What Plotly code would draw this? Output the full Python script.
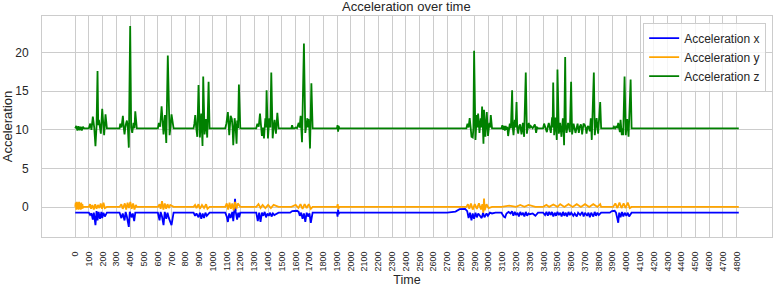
import plotly.graph_objects as go

# ---- data (time, value) ----
t_z = [0, 8, 16, 24, 32, 40, 48, 56, 64,
       99, 109, 118, 128, 138, 147, 155, 162, 167, 172, 180, 186, 196, 204, 210, 220, 230,
       322, 327, 336, 346, 352, 358, 366, 375, 382, 389, 399, 406, 414, 423, 430, 436, 447,
       600, 607, 617, 627, 634, 641, 651, 656, 661, 672, 679, 685, 692, 699, 714,
       859, 865, 871, 878, 886, 895, 900, 905, 915, 920, 924, 929, 934, 939, 949, 953, 958, 968, 975,
       1089, 1097, 1108, 1113, 1118, 1128, 1137, 1142, 1147, 1157, 1164, 1171, 1176, 1182, 1188, 1198,
       1314, 1322, 1332, 1341, 1348, 1355, 1362, 1370, 1380, 1385, 1389, 1394, 1399, 1409, 1416, 1423, 1428, 1433, 1440, 1447, 1452, 1457, 1467, 1476,
       1569, 1574, 1580, 1593, 1600, 1610, 1622, 1629, 1636, 1641, 1646, 1660, 1665, 1670, 1685, 1690, 1694, 1699, 1704, 1714, 1723,
       1900, 1904, 1908, 1912, 1916,
       2839, 2847, 2855, 2863, 2870, 2876, 2885, 2890, 2895, 2900, 2905, 2914, 2919, 2924, 2929, 2934, 2943, 2948, 2953, 2958, 2963, 2967, 2972, 2977, 2987, 2992, 2996, 3006, 3011, 3016, 3025,
       3094, 3100, 3106, 3112, 3118, 3124, 3130, 3136, 3142, 3148, 3154, 3162, 3171, 3176, 3181, 3190, 3196, 3203, 3208, 3215, 3222, 3229, 3234, 3239, 3249, 3254, 3258, 3270, 3275, 3278, 3285, 3292, 3298, 3306, 3320, 3336, 3345, 3352, 3359,
       3396, 3403, 3413, 3423, 3430, 3437, 3444, 3452, 3461, 3465, 3469, 3473, 3476, 3486, 3490, 3495, 3500, 3505, 3510, 3519, 3524, 3529, 3539, 3544, 3548, 3556, 3561, 3566, 3577, 3583, 3590, 3599, 3603, 3606, 3617, 3624, 3631, 3646, 3651, 3655, 3662, 3670, 3675, 3679, 3689, 3699, 3705, 3711, 3717, 3723, 3729, 3735, 3742, 3746, 3749, 3764, 3768, 3771, 3784, 3789, 3795, 3810, 3817,
       3904, 3910, 3918, 3929, 3935, 3941, 3948, 3953, 3958, 3963, 3967, 3972, 3977, 3987, 3992, 3996, 4006, 4011, 4016, 4031, 4038,
       4816]
acc_z = [10.2, 10.5, 9.9, 10.45, 9.95, 10.4, 9.9, 10.4, 10.2,
         10.2, 10.8, 10.0, 11.7, 10.3, 7.9, 10.5, 17.6, 10.6, 11.3, 10.0, 9.5, 12.7, 10.0, 9.3, 12.0, 10.2,
         10.2, 10.8, 10.3, 11.8, 10.3, 9.4, 10.6, 11.2, 10.3, 7.7, 23.4, 10.3, 9.6, 10.9, 10.2, 12.4, 10.2,
         10.2, 10.9, 10.4, 13.05, 10.2, 9.4, 11.9, 10.3, 8.3, 19.6, 10.2, 9.3, 10.4, 12.0, 10.2,
         10.2, 10.8, 11.9, 10.3, 9.1, 15.8, 10.2, 9.0, 12.1, 10.3, 7.9, 16.9, 10.3, 9.4, 11.4, 10.3, 9.0, 16.2, 10.2,
         10.2, 10.8, 12.3, 10.3, 9.3, 11.8, 11.4, 10.3, 8.0, 11.5, 10.4, 8.2, 11.2, 10.2, 15.85, 10.2,
         10.2, 10.8, 10.4, 12.1, 10.2, 9.2, 10.3, 8.9, 11.5, 10.3, 15.1, 10.2, 8.9, 11.5, 10.3, 17.4, 10.2, 8.9, 10.4, 11.3, 10.2, 9.5, 12.2, 10.2,
         10.2, 10.6, 10.2, 10.2, 10.3, 10.2, 10.9, 10.3, 11.8, 10.3, 8.4, 21.15, 10.3, 9.6, 11.5, 10.3, 11.4, 10.2, 7.6, 16.0, 10.2,
         10.2, 10.6, 9.75, 10.5, 10.2,
         10.2, 10.8, 10.3, 11.5, 10.3, 9.1, 9.0, 10.2, 20.2, 10.3, 8.7, 11.9, 10.3, 12.1, 10.3, 9.6, 11.5, 10.3, 13.0, 10.2, 8.2, 12.6, 10.3, 9.1, 12.3, 10.3, 9.2, 10.9, 10.3, 11.9, 10.2,
         10.2, 10.6, 10.0, 10.5, 9.9, 10.5, 10.0, 10.4, 9.2, 10.4, 10.8, 10.2, 15.1, 10.2, 9.3, 11.3, 10.3, 13.6, 10.2, 9.5, 10.5, 10.7, 10.2, 9.4, 10.9, 10.2, 9.1, 17.4, 10.2, 9.5, 10.4, 10.9, 10.2, 10.5, 10.2, 10.7, 9.6, 10.3, 10.2,
         10.2, 10.8, 10.3, 9.7, 10.4, 10.9, 10.3, 9.6, 11.6, 10.3, 16.1, 10.3, 9.3, 11.6, 10.3, 8.7, 17.8, 10.3, 9.5, 10.9, 10.2, 9.1, 11.5, 10.3, 8.0, 19.4, 10.3, 9.6, 10.9, 10.2, 9.7, 16.2, 10.3, 9.4, 10.8, 10.2, 9.6, 10.8, 10.2, 9.6, 10.4, 10.7, 10.2, 9.4, 10.8, 10.6, 10.2, 9.5, 10.3, 10.5, 10.2, 9.8, 11.5, 10.2, 8.7, 17.4, 10.2, 9.3, 11.5, 10.2, 9.5, 13.6, 10.2,
         10.2, 10.4, 10.2, 10.5, 10.2, 10.9, 10.2, 9.7, 11.3, 10.2, 9.3, 10.2, 9.3, 16.9, 10.2, 9.3, 11.4, 10.2, 9.1, 16.5, 10.2,
         10.2]

t_x = [0,
       99, 108, 118, 128, 135, 147, 155, 162, 170, 180, 190, 196, 205, 215, 230,
       322, 335, 345, 358, 366, 375, 389, 396, 410, 418, 428, 436, 447,
       600, 612, 620, 630, 641, 650, 661, 670, 680, 699, 714,
       859, 870, 880, 895, 905, 915, 925, 935, 945, 955, 975,
       1089, 1100, 1108, 1118, 1128, 1140, 1147, 1155, 1160, 1165, 1175, 1183, 1190, 1198,
       1314, 1325, 1335, 1345, 1355, 1365, 1375, 1385, 1395, 1405, 1415, 1425, 1435, 1445, 1476,
       1560, 1575, 1610, 1622, 1630, 1640, 1650, 1660, 1670, 1680, 1690, 1700, 1710, 1723,
       1900, 1904, 1908, 1912, 1916,
       2700, 2760, 2790, 2830, 2845,
       2855, 2865, 2876, 2885, 2895, 2905, 2915, 2925, 2935, 2950, 2960, 2970, 2985, 2995, 3010, 3025, 3050,
       3094, 3100, 3110, 3120, 3130, 3145, 3160, 3170, 3180, 3190, 3200, 3210, 3220, 3230, 3240, 3250, 3260, 3270, 3280, 3290, 3300, 3320, 3340, 3359,
       3396, 3410, 3420, 3430, 3440, 3450, 3460, 3470, 3480, 3490, 3500, 3510, 3520, 3530, 3540, 3550, 3560, 3570, 3580, 3590, 3600, 3615, 3625, 3640, 3650, 3665, 3680, 3690, 3700, 3715, 3725, 3735, 3745, 3760, 3770, 3780, 3790, 3800, 3817,
       3880, 3895, 3915, 3925, 3935, 3941, 3948, 3958, 3968, 3978, 3988, 4000, 4010, 4020, 4038,
       4816]
acc_x = [-0.7,
         -0.7, -1.0, -0.8, -1.6, -0.7, -2.3, -0.5, -1.7, -0.6, -1.5, -0.6, -1.4, -0.7, -1.2, -0.7,
         -0.7, -1.4, -0.8, -1.7, -0.6, -1.2, -2.54, -0.6, -1.3, -0.8, -1.8, -0.7, -0.7,
         -0.7, -1.7, -0.6, -1.2, -2.3, -0.6, -1.5, -0.7, -1.4, -2.3, -0.7,
         -0.7, -1.1, -0.8, -1.3, -0.7, -1.5, -0.8, -1.4, -0.7, -1.1, -0.7,
         -0.7, -1.2, -1.9, -0.8, -1.4, -0.6, -1.8, -0.3, 1.1, -0.6, -1.6, -0.7, -1.3, -0.7,
         -0.7, -1.8, -0.7, -1.9, -0.7, -1.1, -0.6, -1.3, -0.8, -1.1, -0.7, -1.2, -0.8, -1.0, -0.7,
         -0.7, -0.5, -0.45, -0.6, -1.1, -0.7, -1.5, -0.8, -1.9, -0.7, -1.2, -0.8, -2.0, -0.7,
         -0.7, -1.2, -0.3, -0.9, -0.7,
         -0.7, -0.55, -0.25, -0.2, -0.5,
         -1.4, -0.7, -1.7, -0.8, -1.5, -0.7, -1.3, -0.8, -1.0, -1.4, -0.7, -1.3, -0.8, -1.1, -0.7, -0.8, -0.7,
         -0.7, -0.9, -1.2, -1.3, -0.8, -0.6, -0.8, -0.5, -1.1, -0.6, -1.0, -0.7, -1.2, -0.6, -1.0, -0.7, -1.2, -0.6, -1.1, -0.8, -0.9, -0.8, -1.1, -0.7,
         -0.7, -1.0, -0.6, -1.1, -0.6, -1.0, -0.6, -1.2, -0.7, -1.1, -0.6, -1.0, -0.7, -1.2, -0.6, -1.1, -0.7, -1.2, -0.6, -1.0, -0.7, -1.1, -0.8, -1.2, -0.7, -1.0, -0.6, -1.2, -0.7, -1.1, -0.7, -1.3, -0.7, -1.2, -0.6, -1.1, -0.7, -1.0, -0.7,
         -0.7, -0.5, -0.45, -0.7, -1.5, -2.0, -0.7, -1.3, -0.6, -1.2, -0.7, -1.1, -0.7, -1.2, -0.7,
         -0.7]

t_y = [0, 4, 8, 12, 16, 20, 24, 28, 32, 36, 40, 44, 48, 52, 56, 60,
       99, 108, 115, 125, 135, 145, 155, 165, 175, 185, 195, 205, 215, 230,
       322, 335, 345, 360, 370, 380, 390, 400, 410, 420, 430, 440, 447,
       600, 612, 620, 630, 640, 650, 660, 670, 680, 690, 714,
       859, 870, 880, 895, 905, 920, 935, 950, 960, 975,
       1089, 1100, 1110, 1120, 1130, 1140, 1150, 1160, 1170, 1180, 1198,
       1314, 1330, 1345, 1360, 1380, 1400, 1420, 1440, 1476,
       1569, 1600, 1620, 1635, 1650, 1665, 1680, 1695, 1710, 1723,
       1900, 1905, 1910, 1916,
       2839, 2850, 2860, 2872, 2885, 2900, 2915, 2930, 2945, 2955, 2962, 2967, 2972, 2985, 3000, 3025,
       3094, 3150, 3200, 3230, 3260, 3290, 3340, 3359,
       3396, 3420, 3440, 3470, 3500, 3520, 3550, 3580, 3610, 3640, 3670, 3700, 3730, 3760, 3790, 3810, 3817,
       3904, 3920, 3935, 3950, 3965, 3980, 3995, 4010, 4025, 4038,
       4816]
acc_y = [0.05, 0.6, -0.3, 0.7, -0.2, 0.6, -0.3, 0.7, -0.2, 0.5, -0.3, 0.6, -0.2, 0.4, -0.1, 0.05,
         0.05, 0.4, -0.2, 0.3, -0.3, 0.4, -0.2, 0.3, -0.1, 0.5, -0.2, 0.6, -0.1, 0.05,
         0.05, 0.4, -0.2, 0.5, -0.3, 0.6, -0.1, 0.7, -0.2, 0.5, -0.3, 0.3, 0.05,
         0.05, 0.4, -0.2, 0.8, -0.3, 0.5, -0.2, 0.4, -0.1, 0.3, 0.05,
         0.05, 0.3, -0.1, 0.4, -0.2, 0.3, -0.1, 0.4, -0.2, 0.05,
         0.05, 0.5, -0.3, 0.6, -0.2, 0.5, -0.4, 0.7, -0.2, 0.5, 0.05,
         0.05, 0.4, -0.1, 0.3, -0.1, 0.3, -0.1, 0.3, 0.05,
         0.05, 0.3, -0.1, 0.4, -0.2, 0.4, -0.1, 0.4, -0.2, 0.05,
         0.05, 0.4, -0.2, 0.05,
         0.05, 0.4, -0.2, 0.5, -0.3, 0.4, -0.2, 0.5, -0.3, 0.4, -0.7, 1.12, -0.4, 0.4, -0.1, 0.05,
         0.05, 0.2, 0.05, 0.3, 0.05, 0.3, 0.05, 0.05,
         0.05, 0.3, 0.05, 0.35, 0.05, 0.4, 0.05, 0.4, 0.05, 0.4, 0.05, 0.4, 0.05, 0.4, 0.05, 0.4, 0.05,
         0.05, 0.5, -0.1, 0.6, -0.1, 0.5, -0.1, 0.6, -0.1, 0.05,
         0.05]

x_ticks = list(range(0, 4801, 100))
y_ticks = [0, 5, 10, 15, 20]

FONT = "Liberation Sans, Arial, sans-serif"
TXT = "#262626"
GRID = "#cccccc"

fig = go.Figure()
fig.add_trace(go.Scatter(x=t_x, y=acc_x, mode="lines", name="Acceleration x",
                         line=dict(color="blue", width=1.8)))
fig.add_trace(go.Scatter(x=t_y, y=acc_y, mode="lines", name="Acceleration y",
                         line=dict(color="orange", width=1.8)))
fig.add_trace(go.Scatter(x=t_z, y=acc_z, mode="lines", name="Acceleration z",
                         line=dict(color="green", width=1.8)))

fig.update_layout(
    width=774, height=289,
    margin=dict(l=42, r=2, t=16, b=52),
    paper_bgcolor="white", plot_bgcolor="white",
    font=dict(family=FONT, color=TXT, size=12),
    title=dict(text="Acceleration over time", x=0.525, xanchor="center",
               y=0.978, yanchor="middle", font=dict(size=13, color=TXT)),
    legend=dict(x=0.992, y=0.97, xanchor="right", yanchor="top",
                bgcolor="rgba(255,255,255,0.8)", bordercolor=GRID, borderwidth=1,
                font=dict(size=12, color=TXT), itemwidth=30, tracegroupgap=0),
    showlegend=True,
)
fig.update_xaxes(
    range=[-241, 5057], tickmode="array", tickvals=x_ticks,
    ticktext=[str(v) for v in x_ticks], tickangle=-90,
    tickfont=dict(size=9, color=TXT), ticks="", ticklabelstandoff=10,
    showgrid=True, gridcolor=GRID, gridwidth=1, zeroline=False,
    showline=True, linecolor=GRID, linewidth=1, mirror=True,
    title=dict(text="Time", font=dict(size=12.5, color=TXT), standoff=4),
)
fig.update_yaxes(
    range=[-3.84, 24.7], tickmode="array", tickvals=y_ticks,
    tickfont=dict(size=12, color=TXT), ticks="", ticklabelstandoff=10,
    showgrid=True, gridcolor=GRID, gridwidth=1, zeroline=False,
    showline=True, linecolor=GRID, linewidth=1, mirror=True,
    title=dict(text="Acceleration", font=dict(size=13, color=TXT), standoff=4),
)

fig.write_html("out.html")
